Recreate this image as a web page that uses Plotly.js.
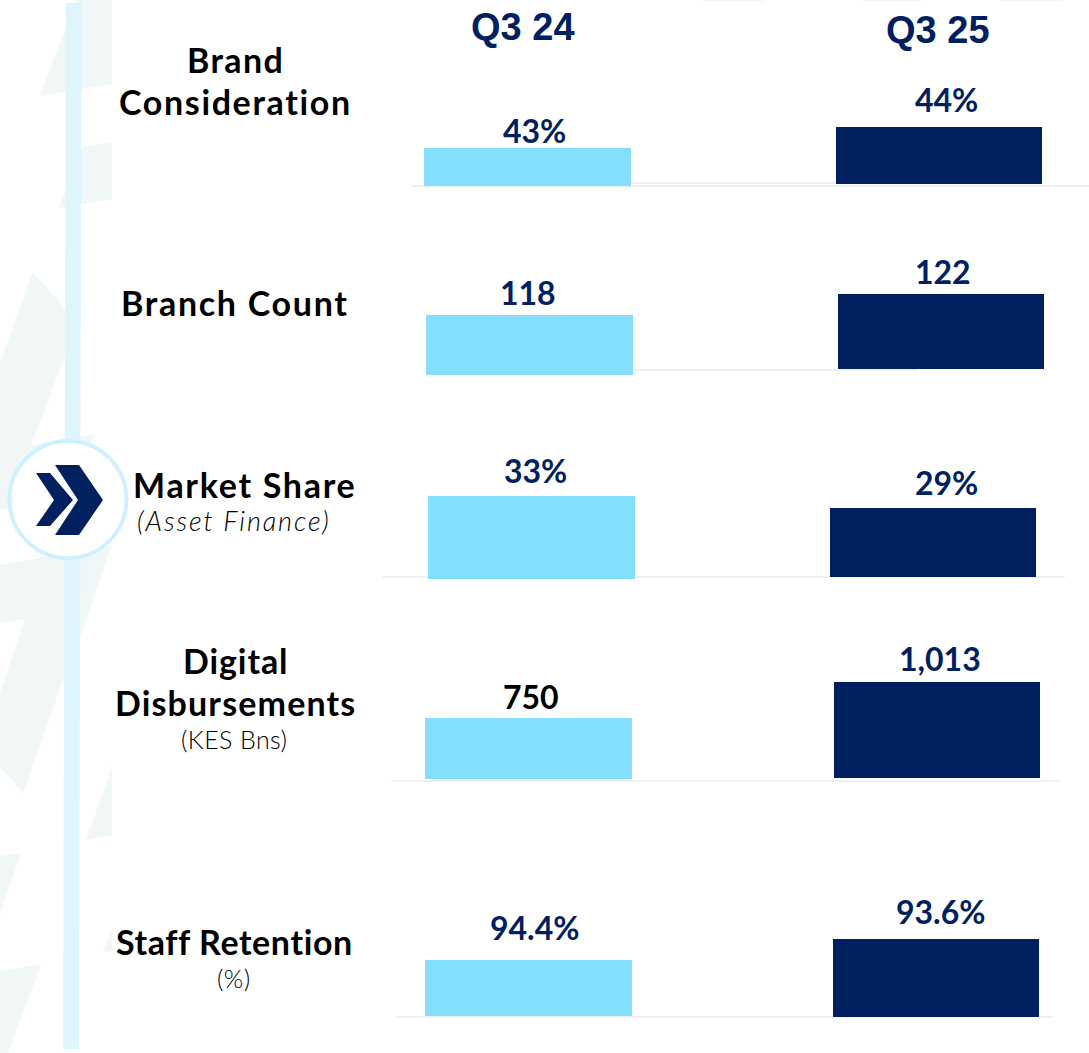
<!DOCTYPE html>
<html>
<head>
<meta charset="utf-8">
<script src="https://cdn.plot.ly/plotly-3.0.1.min.js"></script>
<style>html,body{margin:0;padding:0;background:#fff;overflow:hidden}#chart{width:1089px;height:1053px}</style>
</head>
<body>
<div id="chart"></div>
<script>
// ---- data ----
const periods = ["Q3 24", "Q3 25"];
const metrics = ["Brand Consideration", "Branch Count", "Market Share", "Digital Disbursements", "Staff Retention"];
const q324Values = [43, 118, 33, 750, 94.4];
const q325Values = [44, 122, 29, 1013, 93.6];
const q324Labels = ["43%", "118", "33%", "750", "94.4%"];
const q325Labels = ["44%", "122", "29%", "1,013", "93.6%"];

// ---- layout geometry (pixels) ----
const W = 1089, H = 1053;
const px = x => x / W, py = y => 1 - y / H;
const NAVY = "#002060", SKY = "#84DFFF", TINT = "#F1F7F7";
const FONT = "Lato, 'Open Sans', sans-serif";

const leftRects  = [[424,631,148,186],[426,633,315,375],[428,635,496,579],[425,632,718,779],[425,632,960,1016]];
const rightRects = [[836,1042,127,184],[838,1044,294,369],[830,1036,508,577],[834,1040,682,778],[833,1039,939,1017]];
const leftLabelPos  = [[534,130],[528,292.5],[535,470],[531,696.5],[535,927]];
const rightLabelPos = [[946,99],[943,271.5],[946,482],[940,658.5],[941,911.5]];
const leftLabelColors = [NAVY, NAVY, NAVY, "#000000", NAVY];

const rowTitles = [
  {t:"Brand", x:235, y:60, sp:1.4}, {t:"Consideration", x:235, y:101, sp:1.65},
  {t:"Branch Count", x:235, y:302, sp:1.7},
  {t:"Market Share", x:244, y:484, sp:1.7},
  {t:"Digital", x:235, y:660, sp:0.9}, {t:"Disbursements", x:235, y:702, sp:1.15},
  {t:"Staff Retention", x:234, y:941, sp:0.6}
];
const rowNotes = [
  {t:"<i>(Asset Finance)</i>", x:234, y:520, sp:1.9, size:27},
  {t:"(KES Bns)", x:234, y:739, sp:0.4, size:25},
  {t:"(%)", x:234, y:978, sp:0.4, size:25}
];
const rules = [[411,1089,186],[631,836,183],[633,918,370],[382,1065,577],[391,1060,781],[396,1053,1017]];
const polys = [
  [[76,0],[112,0],[112,84],[40,96]],
  [[82,147],[112,142],[112,199],[59,208]],
  [[0,363],[33,272],[68,312],[68,348],[31,445],[95,434],[80,470],[60,500],[0,510]],
  [[0,565],[112,545],[80,637],[63,680],[23,793],[0,767],[0,693],[25,619],[0,623]],
  [[112,767],[112,835],[86,840]],
  [[21,853],[0,856],[0,913]],
  [[41,964],[0,971],[0,1053],[8,1053]],
  [[112,928],[103,952],[112,951]],
  [[703,0],[764,0],[764,1],[703,1]],
  [[862,0],[923,0],[923,1],[862,1]],
  [[1000,0],[1061,0],[1061,1],[1000,1]]
];
const chevronBig = [[55,465],[79,465],[103,500],[79,535],[55,535],[78,500]];
const chevronSmall = [[36,473],[47,473],[50,473],[73,500],[50,526],[36,526],[54,500]];

// ---- helpers ----
const pathOf = pts => "M" + pts.map(p => px(p[0]) + "," + py(p[1])).join("L") + "Z";
const polyShape = (pts, color) => ({type:"path", xref:"paper", yref:"paper", path:pathOf(pts),
  fillcolor:color, line:{width:0}, layer:"below"});
const note = (text, x, y, size, color, family, weight) => ({
  text, x:px(x), y:py(y), xref:"paper", yref:"paper", xanchor:"center", yanchor:"middle",
  showarrow:false, font:{size, color, family, weight:weight || "normal"}
});
const spaced = (text, sp) => '<span style="letter-spacing:' + sp + 'px">' + text + '</span>';

// ---- traces: one axis pair per bar, y runs from 0 to the bar's value ----
const traces = [];
const layout = {
  width:W, height:H, margin:{l:0,r:0,t:0,b:0,pad:0}, autosize:false,
  paper_bgcolor:"#ffffff", plot_bgcolor:"rgba(0,0,0,0)", showlegend:false,
  bargap:0, shapes:[], annotations:[]
};
function addBar(period, metricIdx, value, rect, color, axisIdx) {
  const suf = axisIdx === 1 ? "" : String(axisIdx);
  traces.push({type:"bar", x:[period], y:[value], name:metrics[metricIdx] + " " + period,
    xaxis:"x"+suf, yaxis:"y"+suf, marker:{color, line:{width:0}}, hoverinfo:"name+y"});
  layout["xaxis"+suf] = {domain:[px(rect[0]),px(rect[1])], anchor:"y"+suf, type:"category",
    range:[-0.5,0.5], visible:false, fixedrange:true};
  layout["yaxis"+suf] = {domain:[py(rect[3]),py(rect[2])], anchor:"x"+suf,
    range:[0,value], visible:false, fixedrange:true};
}
metrics.forEach((m,i) => {
  addBar(periods[0], i, q324Values[i], leftRects[i], SKY, 2*i+1);
  addBar(periods[1], i, q325Values[i], rightRects[i], NAVY, 2*i+2);
  layout.annotations.push(note(q324Labels[i], leftLabelPos[i][0], leftLabelPos[i][1], 32, leftLabelColors[i], FONT, 700));
  layout.annotations.push(note(q325Labels[i], rightLabelPos[i][0], rightLabelPos[i][1], 32, NAVY, FONT, 700));
});

// ---- decoration ----
polys.forEach(p => layout.shapes.push(polyShape(p, TINT)));
rules.forEach(r => layout.shapes.push({type:"line", xref:"paper", yref:"paper", x0:px(r[0]), x1:px(r[1]),
  y0:py(r[2]), y1:py(r[2]), line:{color:"#EBEBEB", width:1.5}, layer:"below"}));
layout.shapes.push(polyShape([[66,3],[81.5,3],[79,1049],[63,1049]], "#DFF5FE"));
layout.shapes.push({type:"circle", xref:"paper", yref:"paper", x0:px(9.5), x1:px(126.5), y0:py(441), y1:py(558),
  fillcolor:"#ffffff", line:{color:"#CFF1FE", width:4}, layer:"below"});
layout.shapes.push(polyShape(chevronBig, NAVY));
layout.shapes.push(polyShape(chevronSmall, NAVY));

// ---- text ----
layout.annotations.push(note(periods[0], 523, 27, 38, NAVY, "'Liberation Sans', Arial, sans-serif", 700));
layout.annotations.push(note(periods[1], 938, 30, 38, NAVY, "'Liberation Sans', Arial, sans-serif", 700));
rowTitles.forEach(r => layout.annotations.push(note(spaced(r.t, r.sp), r.x, r.y, 34, "#000000", FONT, 700)));
rowNotes.forEach(r => layout.annotations.push(note(spaced(r.t, r.sp), r.x, r.y, r.size, "#000000", FONT, 300)));

Plotly.newPlot("chart", traces, layout, {displayModeBar:false, staticPlot:true});
</script>
</body>
</html>
